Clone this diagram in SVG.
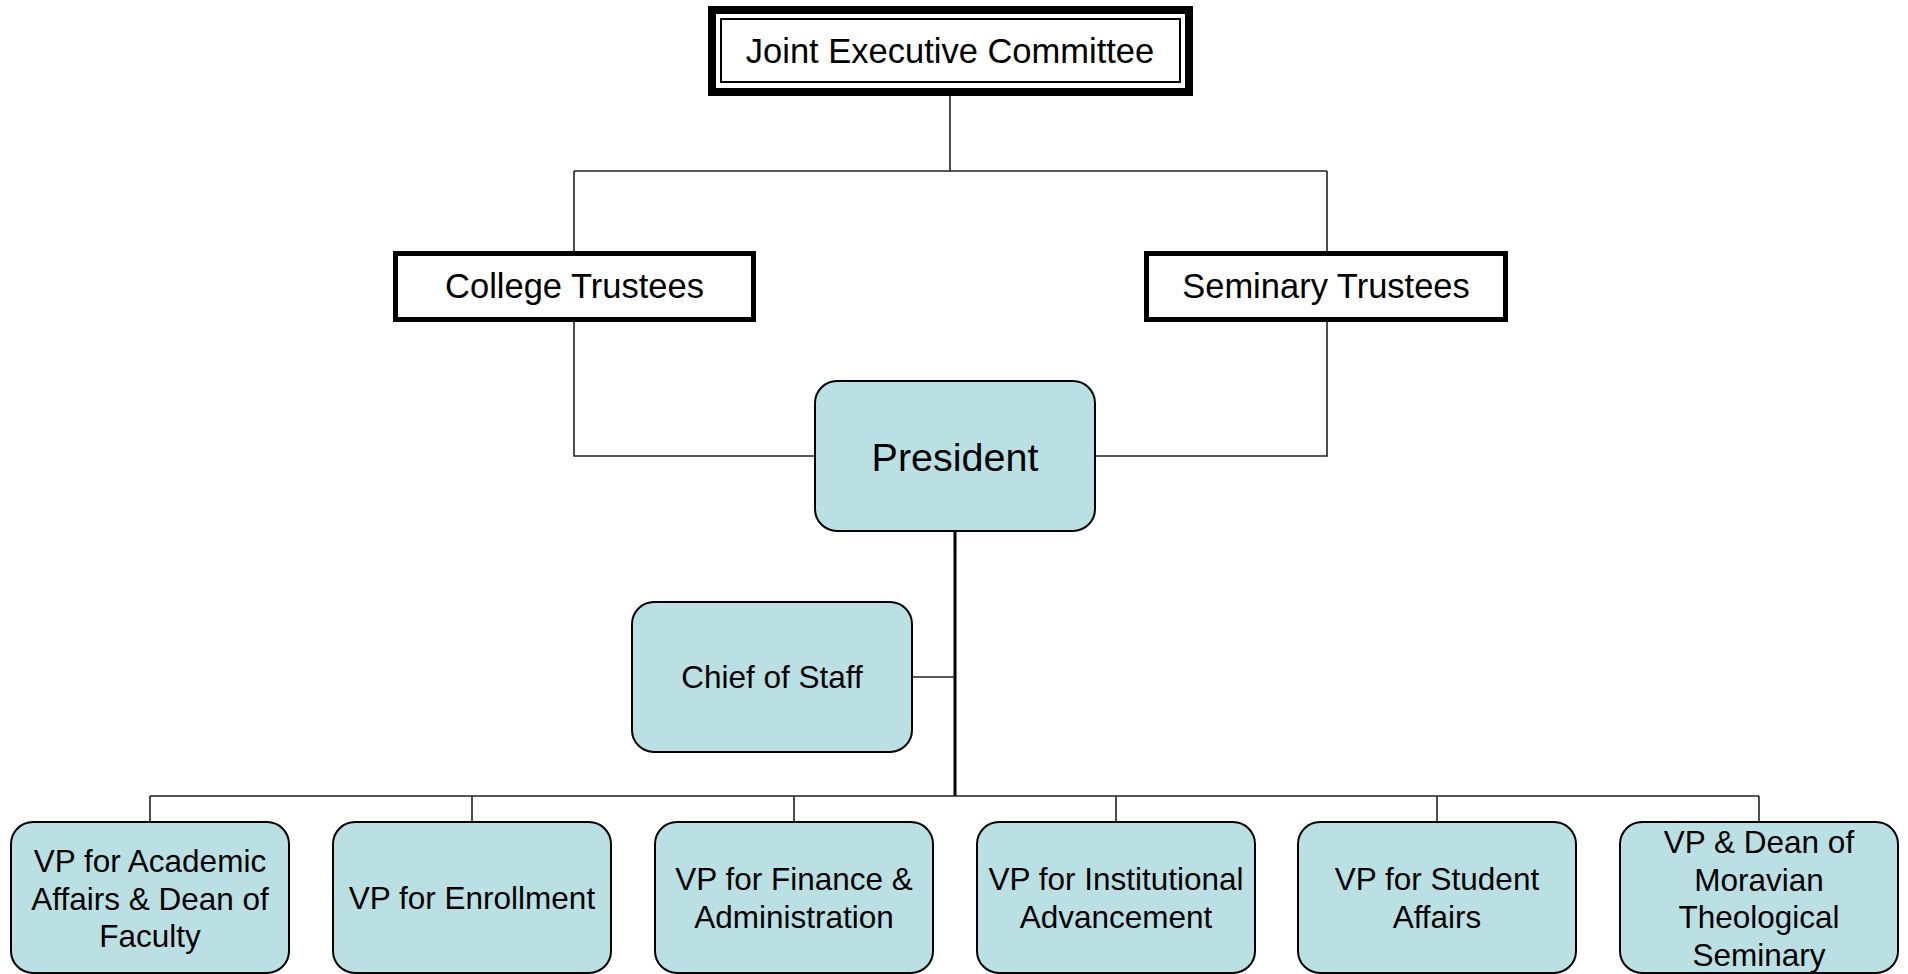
<svg xmlns="http://www.w3.org/2000/svg" width="1908" height="974" viewBox="0 0 1908 974">
<style>
text{font-family:"Liberation Sans",Arial,sans-serif;fill:#000;text-anchor:middle}
.sq{fill:#fff;stroke:#000}
.rb{fill:#BBE0E3;stroke:#000;stroke-width:2}
.ln{fill:none;stroke:#222;stroke-width:1.6}
.lt{fill:none;stroke:#000;stroke-width:3}
.t34{font-size:34.5px}
.t39{font-size:39.5px}
.t31{font-size:31.5px}
</style>
<rect width="1908" height="974" fill="#fff"/>
<g id="connectors">
<path class="ln" d="M950,96 V171 M574,171 H1327 M574,171 V251 M1327,171 V251"/>
<path class="ln" d="M574,322 V456 H815 M1327,322 V456 H1095"/>
<path class="lt" d="M955,531 V796"/>
<path class="ln" d="M912,677 H955"/>
<path class="ln" d="M150,796 H1759 M150,796 V822 M472,796 V822 M794,796 V822 M1116,796 V822 M1437,796 V822 M1759,796 V822"/>
</g>
<g id="joint-executive-committee">
<rect class="sq" x="712" y="10" width="477" height="82" stroke-width="8"/>
<rect x="721" y="19" width="459" height="63" fill="none" stroke="#000" stroke-width="2"/>
<text class="t34" x="950" y="63">Joint Executive Committee</text>
</g>
<g id="college-trustees">
<rect class="sq" x="395.5" y="253.5" width="358" height="66" stroke-width="5"/>
<text class="t34" x="574.5" y="298">College Trustees</text>
</g>
<g id="seminary-trustees">
<rect class="sq" x="1146.5" y="253.5" width="359" height="66" stroke-width="5"/>
<text class="t34" x="1326" y="298">Seminary Trustees</text>
</g>
<g id="president">
<rect class="rb" x="815" y="381" width="280" height="150" rx="22"/>
<text class="t39" x="955" y="471">President</text>
</g>
<g id="chief-of-staff">
<rect class="rb" x="632" y="602" width="280" height="150" rx="22"/>
<text class="t31" x="772" y="688">Chief of Staff</text>
</g>
<g id="vp-academic">
<rect class="rb" x="11" y="822" width="278" height="151" rx="22"/>
<text class="t31" x="150" y="872">VP for Academic</text>
<text class="t31" x="150" y="910">Affairs &amp; Dean of</text>
<text class="t31" x="150" y="947">Faculty</text>
</g>
<g id="vp-enrollment">
<rect class="rb" x="333" y="822" width="278" height="151" rx="22"/>
<text class="t31" x="472" y="909">VP for Enrollment</text>
</g>
<g id="vp-finance">
<rect class="rb" x="655" y="822" width="278" height="151" rx="22"/>
<text class="t31" x="794" y="890">VP for Finance &amp;</text>
<text class="t31" x="794" y="928">Administration</text>
</g>
<g id="vp-advancement">
<rect class="rb" x="977" y="822" width="278" height="151" rx="22"/>
<text class="t31" x="1116" y="890">VP for Institutional</text>
<text class="t31" x="1116" y="928">Advancement</text>
</g>
<g id="vp-student">
<rect class="rb" x="1298" y="822" width="278" height="151" rx="22"/>
<text class="t31" x="1437" y="890">VP for Student</text>
<text class="t31" x="1437" y="928">Affairs</text>
</g>
<g id="vp-seminary">
<rect class="rb" x="1620" y="822" width="278" height="151" rx="22"/>
<text class="t31" x="1759" y="853">VP &amp; Dean of</text>
<text class="t31" x="1759" y="891">Moravian</text>
<text class="t31" x="1759" y="928">Theological</text>
<text class="t31" x="1759" y="966">Seminary</text>
</g>
</svg>
